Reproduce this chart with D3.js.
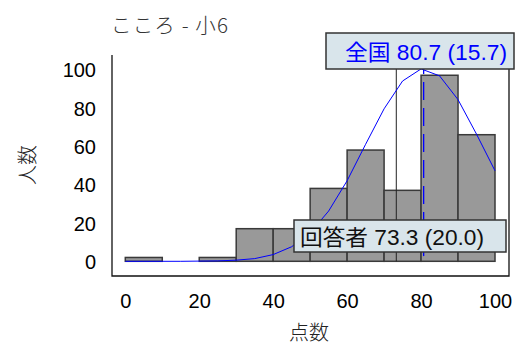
<!DOCTYPE html>
<html><head><meta charset="utf-8">
<script src="https://cdn.jsdelivr.net/npm/d3@7"></script>
<style>body{margin:0;background:#fff}svg{display:block}</style>
</head><body>
<script>
// ---- data ----
const binStarts = [0,10,20,30,40,50,60,70,80,90];
const binWidth = 10;
const counts = [2,0,2,17,17,38,58,37,97,66];
const curveX = [0,5,10,15,20,25,30,35,40,45,50,55,60,65,70,75,80,85,90,95,100];
const curveY = [0,0,0,0,0.1,0.2,0.6,1.4,3.5,7.6,14.8,26.2,42,61,79.5,94,100.3,96.7,84.3,66.3,47.2];
const xTicks = [0,20,40,60,80,100];
const yTicks = [0,20,40,60,80,100];
const respondentMean = 73.3, respondentSD = 20.0;
const nationalMean = 80.7, nationalSD = 15.7;
const title = "こころ - 小6";
const xTitle = "点数", yTitle = "人数";

// ---- layout ----
const W = 520, H = 347;
const svg = d3.select("body").append("svg").attr("width", W).attr("height", H);
const x = d3.scaleLinear().domain([0,100]).range([125.3,495]);
const y = d3.scaleLinear().domain([0,100]).range([261.3,69.5]);
const frame = {l:112, r:509, t:55, b:276};
const font = "'Liberation Sans', Arial, 'Noto Sans CJK JP', sans-serif";

// title
svg.append("text").attr("x",111).attr("y",33).text(title)
  .attr("font-family","'Noto Sans CJK JP', sans-serif").attr("font-size",20.5)
  .attr("font-weight",300).attr("fill","#333")
  .attr("textLength",117).attr("lengthAdjust","spacing");

// frame (no top)
svg.append("path").attr("d",`M${frame.l},${frame.t}V${frame.b}H${frame.r}V${frame.t}`)
  .attr("fill","none").attr("stroke","#111").attr("stroke-width",1.3);

// bars
svg.append("g").selectAll("rect").data(binStarts).join("rect")
  .attr("x", d=>x(d)).attr("width", d=>x(d+binWidth)-x(d))
  .attr("y", (d,i)=>y(counts[i])).attr("height",(d,i)=>y(0)-y(counts[i]))
  .attr("fill","#999").attr("stroke","#3a3a3a").attr("stroke-width",1.5);

// respondent mean line
svg.append("line").attr("x1",x(respondentMean)).attr("x2",x(respondentMean))
  .attr("y1",y(107)).attr("y2",y(0)).attr("stroke","#222").attr("stroke-width",1);
// national mean dashed
svg.append("line").attr("x1",x(nationalMean)).attr("x2",x(nationalMean))
  .attr("y1",y(107)).attr("y2",y(0)).attr("stroke","#0000ff").attr("stroke-width",1.3)
  .attr("stroke-dasharray","18,8");

// normal curve
svg.append("path").datum(curveX.map((v,i)=>[v,curveY[i]]))
  .attr("d", d3.line().x(d=>x(d[0])).y(d=>y(d[1])))
  .attr("fill","none").attr("stroke","#0000ff").attr("stroke-width",1);

// axes
const ya = svg.append("g").attr("transform",`translate(${frame.l-16},0)`)
  .call(d3.axisLeft(y).tickValues(yTicks).tickSize(0).tickPadding(0));
ya.select(".domain").remove();
ya.selectAll("text").attr("font-family",font).attr("font-size",20).attr("fill","#000").attr("dy","0.36em");
const xa = svg.append("g").attr("transform",`translate(0,${frame.b+18})`)
  .call(d3.axisBottom(x).tickValues(xTicks).tickSize(0).tickPadding(0));
xa.select(".domain").remove();
xa.selectAll("text").attr("font-family",font).attr("font-size",20).attr("fill","#000").attr("dy","0.72em");

// axis titles
svg.append("text").attr("transform","translate(35,165) rotate(-90)").attr("text-anchor","middle")
  .text(yTitle).attr("font-family","'Noto Sans CJK JP', sans-serif").attr("font-size",20).attr("fill","#222").attr("font-weight",300);
svg.append("text").attr("x",309).attr("y",340).attr("text-anchor","middle")
  .text(xTitle).attr("font-family","'Noto Sans CJK JP', sans-serif").attr("font-size",20).attr("fill","#222").attr("font-weight",300);

// labels
function label(bx,by,bw,bh,tx,ty,tw,txt,color){
  const g = svg.append("g");
  g.append("rect").attr("x",bx).attr("y",by).attr("width",bw).attr("height",bh)
    .attr("fill","#d9e5eb").attr("stroke","#333").attr("stroke-width",1.5);
  g.append("text").attr("x",tx).attr("y",ty).text(txt).attr("fill",color)
    .attr("font-family",font).attr("font-size",21.5)
    .attr("textLength",tw).attr("lengthAdjust","spacingAndGlyphs");
}
label(326,33,188,36,345,59.5,162,`全国 ${nationalMean.toFixed(1)} (${nationalSD.toFixed(1)})`,"#0000ff");
label(294,220,212,32,300,245,184,`回答者 ${respondentMean.toFixed(1)} (${respondentSD.toFixed(1)})`,"#111");
</script>
</body></html>
